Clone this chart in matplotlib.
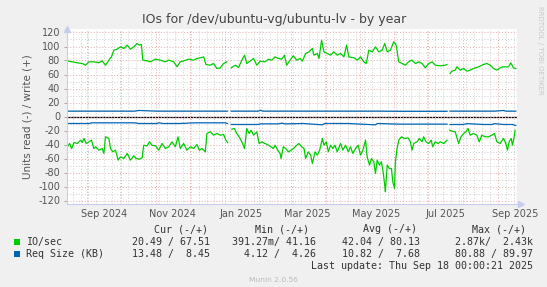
import numpy as np
import matplotlib
matplotlib.use('Agg')
import matplotlib.pyplot as plt
from datetime import date, timedelta

nan = np.nan

# ---------------- data (days since 2024-08-14) ----------------
start = date(2024, 8, 14)

write_days = [0, 4.7, 9.1, 13.6, 16.5, 19.5, 23.9, 28.4, 31.3, 34.2,
              37.2, 39.5, 41.7, 44.6, 47.5, 50.5, 53.5, 56.4, 59.4, 62.3,
              64.4, 66.1, 67.4, 71.2, 74.1, 78.5, 83, 87.4, 90.4, 94.9,
              97.8, 100.7, 103.7, 108.2, 112.6, 115.5, 118.4, 121.5, 123.5, 127.3,
              130.3, 133.2, 136.2, 139.2, 142.1, 144, 146, 149.5, 152.5, 155.4,
              157.8, 159.8, 162.8, 165.8, 168.7, 171.6, 176.1, 179.1, 182, 185,
              188, 190.9, 193.3, 195.3, 198.2, 201.2, 204.2, 207.1, 209.2, 212.1,
              215.1, 218.1, 219.5, 222.5, 224, 226.3, 228.4, 231.4, 234.3, 237.2,
              240.2, 243.2, 246.1, 248.5, 250.5, 255, 258, 260.9, 263.8, 266,
              268.3, 271.3, 274.2, 277.1, 280.1, 282.4, 284.6, 287.5, 290.4, 292.6,
              294.9, 297.9, 300.8, 303.7, 306.7, 309.7, 312.6, 315.6, 318.5, 321.5,
              324.5, 327.4, 331.8, 336.3, 337.8, 339, 340.5, 342.2, 345.1, 346.6,
              349.6, 352.5, 355.5, 358.4, 361.3, 365.8, 370.2, 373.2, 376.2, 379.1,
              382.1, 385, 387.9, 392.4, 394.5, 396.8, 398.9]
write_ios = [79.5, 78.1, 76.7, 75.7, 73.3, 78.1, 78.1, 76.7, 79.5, 73.3,
             80.5, 85.2, 94.8, 96.2, 99.5, 97.1, 101.9, 96.2, 99.5, 104.3,
             101.9, 102.9, 80.5, 79.5, 78.1, 81.9, 80.5, 78.1, 80.5, 78.1,
             71, 78.1, 79.5, 81.9, 80.5, 82.9, 83.8, 85.2, 74.3, 73.3,
             75.7, 68.6, 69.5, 75.7, 78.1, nan, 69.5, 73.3, 70, 80.5,
             87.6, 75.7, 79.1, 82.9, 73.3, 79.1, 78.1, 81.9, 80.5, 85.2,
             82.9, 81.9, 87.6, 73.3, 80.5, 86.7, 80.5, 82.9, 79.1, 90,
             92.4, 97.1, 87.6, 90, 82.9, 109, 92.4, 90, 87.6, 92.4,
             87.6, 90, 85.2, 101.9, 85.2, 83.8, 80.5, 85.2, 78.1, 75.7,
             94.8, 92.4, 99.5, 92.4, 94.8, 104.3, 92.4, 94.8, 106.7, 101.9,
             78.1, 75.7, 73.3, 78.1, 80.5, 75.7, 78.1, 75.7, 69.5, 75.7,
             78.1, 73.3, 72.4, 73.3, 74.3, nan, 61.4, 64.8, 66.2, 71,
             66.2, 68.6, 64.8, 66.2, 68.6, 71, 74.3, 75.7, 73.3, 68.6,
             66.2, 69.5, 71, 71, 76.7, 69.5, 68.6]

read_days = [0.3, 2.3, 4.1, 6.2, 9.1, 12.1, 13.6, 15.1, 17.1, 19.5,
             21.8, 23.9, 25.4, 28.4, 31.3, 32.8, 34.2, 37.2, 38.7, 40.7,
             43.1, 45.5, 47.5, 50.5, 53.5, 56.4, 59.4, 61.4, 64.4, 66.8,
             68.2, 71.2, 73.3, 75.6, 78.6, 81.5, 84.5, 87.4, 90.4, 93.4,
             96.3, 98.7, 100.7, 103.7, 106.6, 109.6, 112.6, 115.5, 117.6, 119.9,
             122.9, 124.4, 127.3, 130.3, 133.3, 136.2, 139.2, 141.2, 142.7, 144,
             146.5, 148.9, 150.9, 153, 155.4, 157.8, 159.8, 161.9, 163.7, 165.8,
             168.7, 170.8, 173.1, 176.1, 179.1, 181.4, 183.5, 185, 187.3, 189.4,
             190.3, 192.3, 194.4, 196.8, 199.2, 201.2, 204.2, 206.2, 208.6, 210.7,
             212.1, 214.5, 216.6, 218.1, 220.5, 222.5, 224.6, 227, 228.4, 230.5,
             232.3, 234.3, 236.4, 238.2, 240.2, 243.2, 245.2, 247.6, 250, 252,
             254.1, 256.5, 258.8, 260.9, 263, 265.4, 266.8, 268.9, 270.7, 272.7,
             274.2, 275.7, 277.8, 279.5, 281, 282.4, 283, 284.6, 286.6, 288.4,
             289.6, 291.1, 291.9, 293.4, 294.9, 297.2, 300.2, 303.1, 305.2, 306.7,
             308.2, 311.1, 313.2, 315.6, 317, 319.1, 321.5, 323.8, 325, 327.4,
             329.8, 331.8, 334.8, 337.8, 339, 340.2, 342.2, 345.1, 348.1, 350.2,
             352.5, 354.6, 356.4, 358.4, 361.3, 364.3, 366.4, 368.7, 371.7, 374.7,
             377.6, 380, 382.1, 385, 388, 390.1, 391.5, 393, 394.8, 396,
             397.2, 398.3]
read_ios = [-43.3, -38.6, -45.7, -37.1, -38.6, -33.8, -37.1, -31.4, -38.6, -36.2,
            -33.8, -45.7, -43.3, -48.1, -45.7, -52.8, -29, -31.4, -45.7, -50.5,
            -48.1, -62.4, -57.6, -60, -52.8, -62.4, -56.2, -60, -61, -59,
            -41, -41.9, -36.2, -41, -41.9, -48.1, -38.6, -45.7, -43.3, -36.2,
            -43.3, -29, -45.7, -38.6, -48.1, -43.3, -45.7, -40, -48.1, -45.7,
            -50.5, -24.3, -21.9, -26.7, -24.3, -26.7, -25.7, -33.8, -37.1, nan,
            -18.1, -17.1, -24.3, -29, -36.2, -45.7, -17.1, -24.3, -19.5, -26.7,
            -21.9, -38.6, -36.2, -38.6, -41, -43.3, -45.7, -41, -48.1, -52.8,
            -60, -43.3, -45.7, -50.5, -48.1, -45.7, -41, -38.6, -43.3, -45.7,
            -60, -50.5, -55.2, -67.1, -50.5, -55.2, -48.1, -31.4, -41, -36.2,
            -50.5, -41, -45.7, -41, -50.5, -38.6, -48.1, -41, -50.5, -43.3,
            -52.8, -45.7, -41, -55.2, -48.1, -33.8, -57.6, -69.5, -60, -64.7,
            -81.4, -62.4, -69.5, -64.7, -79, -98, -107.6, -69.5, -74.3, -74.3,
            -93.3, -102.8, -64.7, -45.7, -33.8, -29, -31.4, -30.5, -36.2, -48.1,
            -38.6, -36.2, -31.4, -36.2, -29, -36.2, -38.6, -33.8, -43.3, -36.2,
            -38.6, -36.2, -38.6, -33.8, nan, -19.5, -21, -21.9, -38.6, -29,
            -24.3, -21.9, -17.1, -26.7, -24.3, -26.7, -36.2, -26.7, -29, -29,
            -26.7, -24.3, -36.2, -38.6, -31.4, -38.6, -48.1, -36.2, -31.4, -41,
            -31.4, -19.5]

req_days = [0, 20, 22, 60, 64, 80, 82, 85, 100, 114,
            120, 130, 140.6, 142.5, 144, 146, 160, 170, 172, 174,
            188, 191, 194, 210, 227, 229, 250, 274, 276, 295,
            310, 325, 337.8, 339, 340.5, 352, 356, 370, 378, 380,
            388, 390, 396, 398.9]
req_write = [7.6, 7.6, 7.6, 7.6, 8.6, 7.6, 7.6, 7.6, 7.6, 7.6,
             7.6, 7.6, 7.6, 7.6, nan, 7.6, 7.6, 7.6, 9.0, 7.6,
             7.6, 7.6, 7.6, 7.6, 7.6, 7.6, 7.6, 7.6, 7.6, 7.4,
             7.4, 7.4, 7.4, nan, 7.6, 7.6, 7.6, 7.6, 7.6, 7.6,
             8.6, 7.6, 7.6, 7.6]
req_read = [-10, -10, -9, -9, -10, -10, -9, -10, -10, -9,
            -9, -9, -9, -10, nan, -11.4, -11.4, -11.4, -10.5, -10.5,
            -10.5, -9.5, -10.5, -10, -11.9, -10, -10, -11.9, -10, -10.9,
            -10.9, -10.9, -10.9, nan, -11.4, -11.4, -10.2, -11.4, -11.4, -10.2,
            -11.4, -11.4, -11.4, -12.9]

month_labels = ["Sep 2024", "Nov 2024", "Jan 2025", "Mar 2025", "May 2025", "Jul 2025", "Sep 2025"]
label_dates = [date(2024, 9, 16), date(2024, 11, 16), date(2025, 1, 16), date(2025, 3, 16),
               date(2025, 5, 16), date(2025, 7, 16), date(2025, 9, 16)]
y_ticks = list(range(-120, 121, 20))

legend_header = ["Cur (-/+)", "Min (-/+)", "Avg (-/+)", "Max (-/+)"]
legend_names = ["IO/sec", "Req Size (KB)"]
legend_values = [["20.49 / 67.51", "391.27m/ 41.16", "42.04 / 80.13", "2.87k/  2.43k"],
                 ["13.48 /  8.45", "4.12 /  4.26", "10.82 /  7.68", "80.88 / 89.97"]]
legend_colors = ["#00CC00", "#0066B3"]

# ---------------- figure ----------------
W, H = 547, 287
fig = plt.figure(figsize=(W / 100, H / 100), dpi=100, facecolor='#F0F0F0')
L, R, T, B = 67, 517, 29, 204
ax = fig.add_axes([L / W, 1 - B / H, (R - L) / W, (B - T) / H])
ax.set_facecolor('white')
ax.set_xlim(0, 400)
ax.set_ylim(-125, 125)

dot = (0, (1, 2))
# horizontal grid
for v in range(-120, 121, 10):
    if v % 20 == 0:
        ax.axhline(v, color='#EBA9A9', lw=0.7, ls=dot, zorder=1.2)
    else:
        ax.axhline(v, color='#CFCFCF', lw=0.7, ls=dot, zorder=1.1)
# vertical grid: weekly (Mondays) grey, month starts red
d = start
while (d - start).days <= 400:
    off = (d - start).days
    if d.day == 1:
        ax.axvline(off, color='#EBA9A9', lw=0.7, ls=dot, zorder=1.2)
    elif d.weekday() == 0:
        ax.axvline(off, color='#CFCFCF', lw=0.7, ls=dot, zorder=1.1)
    d += timedelta(days=1)

ax.axhline(0, color='black', lw=0.9, zorder=1.15)

ax.plot(write_days, write_ios, color='#00CC00', lw=0.9, zorder=2)
ax.plot(read_days, read_ios, color='#00CC00', lw=0.9, zorder=2)
ax.plot(req_days, req_write, color='#0066B3', lw=0.9, zorder=2)
ax.plot(req_days, req_read, color='#0066B3', lw=0.9, zorder=2)

for s in ['top', 'right']:
    ax.spines[s].set_visible(False)
for s in ['left', 'bottom']:
    ax.spines[s].set_color('#C8CCEE')
    ax.spines[s].set_linewidth(0.8)

ax.set_yticks(y_ticks)
ax.set_yticklabels([str(v) for v in y_ticks])
ax.set_xticks([(d - start).days for d in label_dates])
ax.set_xticklabels(month_labels)
ax.tick_params(axis='y', length=2, width=0.6, color='#999999', pad=3, labelsize=7, labelcolor='#555555')
ax.tick_params(axis='x', length=0, pad=3.5, labelsize=7, labelcolor='#555555')

# axis arrows
ax.plot([0], [1], marker='^', ms=4, color='#C8CCEE', transform=ax.transAxes, clip_on=False, zorder=5)
ax.plot([1.008], [0], marker='>', ms=4, color='#C8CCEE', transform=ax.transAxes, clip_on=False, zorder=5)

ax.set_ylabel("Units read (-) / write (+)", fontsize=7.5, color='#555555', labelpad=4)

fig.text(274 / W, 1 - 20 / H, "IOs for /dev/ubuntu-vg/ubuntu-lv - by year", ha='center', va='center',
         fontsize=9, color='#444444')
fig.text(540 / W, 1 - 6 / H, "RRDTOOL / TOBI OETIKER", rotation=270, ha='center', va='top',
         fontsize=5, color='#C8C8C8')

mono = 'DejaVu Sans Mono'
fs = 7.16
hdr_right = [208.3, 308.8, 417, 526.2]
val_right = [209.7, 315.8, 420.4, 533.1]
for txt, xr in zip(legend_header, hdr_right):
    fig.text(xr / W, 1 - 229 / H, txt, ha='right', va='center', family=mono, fontsize=fs, color='#333333')
rows_y = [241.9, 254.4]
for name, vals, col, ry in zip(legend_names, legend_values, legend_colors, rows_y):
    fig.patches.append(plt.Rectangle((14 / W, 1 - (ry + 3) / H), 6 / W, 6 / H, transform=fig.transFigure,
                                     facecolor=col, edgecolor='none'))
    fig.text(26.2 / W, 1 - ry / H, name, ha='left', va='center', family=mono, fontsize=fs, color='#333333')
    for txt, xr in zip(vals, val_right):
        fig.text(xr / W, 1 - ry / H, txt, ha='right', va='center', family=mono, fontsize=fs, color='#333333')
fig.text(533.1 / W, 1 - 266.3 / H, "Last update: Thu Sep 18 00:00:21 2025", ha='right', va='center',
         family=mono, fontsize=fs, color='#333333')
fig.text(273 / W, 1 - 279.6 / H, "Munin 2.0.56", ha='center', va='center', fontsize=5.4, color='#BBBBBB')

fig.savefig('out.png', dpi=100, facecolor=fig.get_facecolor())
